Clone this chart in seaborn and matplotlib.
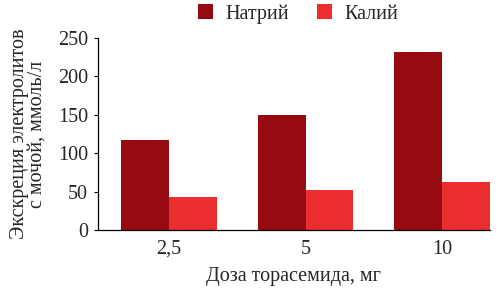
import matplotlib
matplotlib.use("Agg")
import matplotlib.pyplot as plt
import seaborn as sns
import pandas as pd

doses = ["2,5", "5", "10"]
sodium = [117, 150, 232]
potassium = [43, 52, 62]
series_names = ["Натрий", "Калий"]
colors = ["#980A12", "#EC2D2F"]

df = pd.DataFrame({
    "dose": doses * 2,
    "value": sodium + potassium,
    "ion": [series_names[0]] * 3 + [series_names[1]] * 3,
})

sns.set_theme(style="white")
plt.rcParams["font.family"] = ["Liberation Serif", "DejaVu Serif"]

fs = 14.5
fig = plt.figure(figsize=(4.99, 2.94), dpi=100)
ax = fig.add_axes([0.196, 0.2177, 0.786, 0.653])
sns.barplot(data=df, x="dose", y="value", hue="ion", palette=colors,
            width=0.7, gap=0, saturation=1, ax=ax, legend=True, linewidth=0)

ax.set_ylim(0, 250)
ax.set_xlim(-0.52, 2.35)
ax.set_yticks([0, 50, 100, 150, 200, 250])
ax.tick_params(axis="y", length=3, width=0.8, color="black", labelsize=fs, pad=4, direction="out", left=True)
ax.tick_params(axis="x", length=0, labelsize=fs, pad=7)
for s in ["top", "right"]:
    ax.spines[s].set_visible(False)
for s in ["left", "bottom"]:
    ax.spines[s].set_color("black")
    ax.spines[s].set_linewidth(0.9)

ax.set_xlabel("Доза торасемида, мг", fontsize=fs, labelpad=6)
ax.set_ylabel("Экскреция электролитов\nс мочой, ммоль/л", fontsize=fs, labelpad=8, linespacing=0.95)

ax.legend(loc="center", bbox_to_anchor=(0.51, 1.125), ncol=2, frameon=False,
          fontsize=fs, handlelength=0.75, handleheight=0.75, columnspacing=1.4,
          handletextpad=0.6, borderaxespad=0, borderpad=0)

fig.savefig("out.png", dpi=100)
